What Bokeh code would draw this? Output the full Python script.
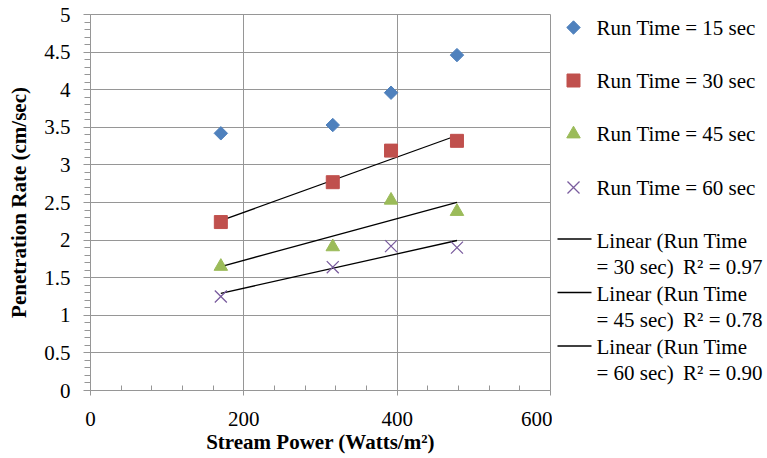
import numpy as np
from bokeh.plotting import figure
from bokeh.models import Range1d, FixedTicker, ColumnDataSource
from bokeh.layouts import row
from bokeh.embed import file_html
from bokeh.resources import INLINE
from bokeh.core.properties import value

# ---- data ----
stream_power = [170, 316, 392, 478]
rate_15 = [3.42, 3.53, 3.96, 4.46]
rate_30 = [2.24, 2.77, 3.19, 3.32]
rate_45 = [1.65, 1.91, 2.53, 2.38]
rate_60 = [1.25, 1.64, 1.92, 1.90]

series_labels = ["Run Time = 15 sec", "Run Time = 30 sec",
                 "Run Time = 45 sec", "Run Time = 60 sec"]
trend_line1 = ["Linear (Run Time", "Linear (Run Time", "Linear (Run Time"]
trend_line2 = ["= 30 sec)", "= 45 sec)", "= 60 sec)"]
r2_labels = ["R\u00b2 = 0.97", "R\u00b2 = 0.78", "R\u00b2 = 0.90"]

x_ticks = [0, 200, 400, 600]
y_ticks = [0, 0.5, 1, 1.5, 2, 2.5, 3, 3.5, 4, 4.5, 5]
y_tick_labels = ["0", "0.5", "1", "1.5", "2", "2.5", "3", "3.5", "4", "4.5", "5"]
x_title = "Stream Power (Watts/m\u00b2)"
y_title = "Penetration Rate (cm/sec)"

BLUE = "#4F81BD"
RED = "#C0504D"
GREEN = "#9BBB59"
PURPLE = "#7A5C9E"
GRAY = "#969696"
FONT = "Liberation Serif"

# ---- main plot ----
p = figure(width=552, height=458, x_range=Range1d(0, 600), y_range=Range1d(0, 5),
           output_backend="svg", toolbar_location=None,
           min_border_left=90, min_border_right=2, min_border_top=14, min_border_bottom=68)
p.background_fill_color = "white"
p.border_fill_color = "white"
p.outline_line_color = GRAY
p.outline_line_width = 1

x_minor = [v for v in range(0, 601, 40) if v not in x_ticks]
y_minor = [round(v, 1) for v in np.arange(0, 5.01, 0.1) if round(v, 1) not in y_ticks]
p.xaxis.ticker = FixedTicker(ticks=x_ticks, minor_ticks=x_minor)
p.yaxis.ticker = FixedTicker(ticks=y_ticks, minor_ticks=y_minor)
p.yaxis.major_label_overrides = {t: l for t, l in zip(y_ticks, y_tick_labels)}
p.xaxis.major_label_overrides = {t: str(t) for t in x_ticks}

for ax in (p.xaxis[0], p.yaxis[0]):
    ax.axis_line_color = GRAY
    ax.major_tick_line_color = GRAY
    ax.minor_tick_line_color = GRAY
    ax.major_label_text_font = FONT
    ax.major_label_text_font_size = "21px"
    ax.major_label_text_color = "black"
    ax.axis_label_text_font = FONT
    ax.axis_label_text_font_size = "21px"
    ax.axis_label_text_font_style = "bold"
    ax.axis_label_text_color = "black"

p.xaxis.major_tick_in = 0
p.xaxis.major_tick_out = 5
p.xaxis.minor_tick_in = 5
p.xaxis.minor_tick_out = 0
p.xaxis.major_label_standoff = 16
p.xaxis.axis_label_standoff = 1
p.xaxis.axis_label = x_title

p.yaxis.major_tick_in = 0
p.yaxis.major_tick_out = 7
p.yaxis.minor_tick_in = 0
p.yaxis.minor_tick_out = 6
p.yaxis.major_label_standoff = 13
p.yaxis.axis_label_standoff = 10
p.yaxis.axis_label = y_title

p.xgrid.grid_line_color = GRAY
p.ygrid.grid_line_color = GRAY
p.xgrid.grid_line_width = 1
p.ygrid.grid_line_width = 1

src = ColumnDataSource(dict(x=stream_power, r15=rate_15, r30=rate_30, r45=rate_45, r60=rate_60))

# linear trend lines (least-squares fits of the plotted data)
xs = np.array(stream_power, dtype=float)
for ys in (rate_30, rate_45, rate_60):
    m, b = np.polyfit(xs, np.array(ys), 1)
    xe = [xs.min(), xs.max()]
    p.line(xe, [m * xe[0] + b, m * xe[1] + b], line_color="black", line_width=1.3)

p.scatter("x", "r15", source=src, marker="square", angle=np.pi / 4, size=9.5,
          fill_color=BLUE, line_color=BLUE)
p.scatter("x", "r30", source=src, marker="square", size=13,
          fill_color=RED, line_color=RED)
p.scatter("x", "r45", source=src, marker="triangle", size=13.5,
          fill_color=GREEN, line_color=GREEN)
p.scatter("x", "r60", source=src, marker="x", size=17,
          line_color=PURPLE, line_width=1.3)

# ---- legend panel (pixel-based coordinates; frame aligned with main frame 14..390) ----
leg = figure(width=215, height=458, x_range=Range1d(552, 767), y_range=Range1d(390, 14),
             output_backend="svg", toolbar_location=None, x_axis_type=None, y_axis_type=None,
             min_border_left=0, min_border_right=0, min_border_top=14, min_border_bottom=68)
leg.outline_line_color = None
leg.xgrid.visible = False
leg.ygrid.visible = False
leg.background_fill_color = "white"
leg.border_fill_color = "white"

row_y = [27, 80, 133.5, 187]
mx = 573
leg.scatter([mx], [row_y[0]], marker="square", angle=np.pi / 4, size=9.5, fill_color=BLUE, line_color=BLUE)
leg.scatter([mx], [row_y[1]], marker="square", size=13, fill_color=RED, line_color=RED)
leg.scatter([mx], [row_y[2]], marker="triangle", size=13.5, fill_color=GREEN, line_color=GREEN)
leg.scatter([mx], [row_y[3]], marker="x", size=17, line_color=PURPLE, line_width=1.3)
leg.text(x=[596] * 4, y=row_y, text=series_labels, text_font=value(FONT),
         text_font_size="21px", text_baseline="middle", text_align="left", text_color="black")

trend_y = [238.5, 292, 345.5]
line2_y = [266, 319, 372.5]
leg.segment(x0=[557] * 3, y0=trend_y, x1=[591] * 3, y1=trend_y, line_color="black", line_width=1.3)
leg.text(x=[596] * 3, y=[240, 293, 346], text=trend_line1, text_font=value(FONT),
         text_font_size="21px", text_baseline="middle", text_align="left", text_color="black")
leg.text(x=[596] * 3, y=line2_y, text=trend_line2, text_font=value(FONT),
         text_font_size="21px", text_baseline="middle", text_align="left", text_color="black")
leg.text(x=[762] * 3, y=line2_y, text=r2_labels, text_font=value(FONT),
         text_font_size="21px", text_baseline="middle", text_align="right", text_color="black")

layout = row(p, leg, spacing=0)
open("out.html", "w").write(file_html(layout, INLINE))
